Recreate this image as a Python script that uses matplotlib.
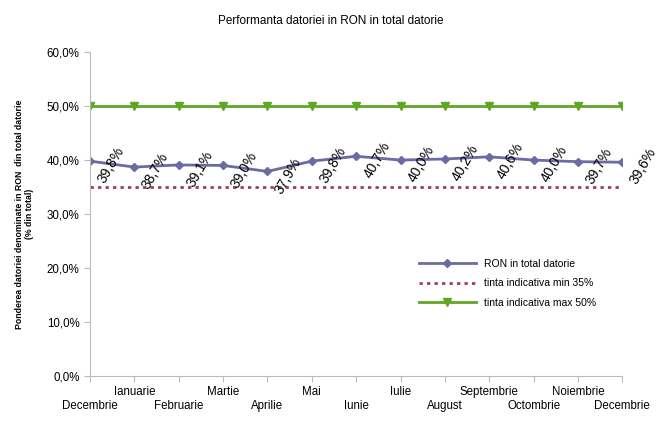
import matplotlib
matplotlib.use('Agg')
import matplotlib.pyplot as plt
from matplotlib.ticker import FuncFormatter

plt.rcParams['font.family'] = ['Liberation Sans', 'DejaVu Sans']

months = ['Decembrie', 'Ianuarie', 'Februarie', 'Martie', 'Aprilie', 'Mai', 'Iunie',
          'Iulie', 'August', 'Septembrie', 'Octombrie', 'Noiembrie', 'Decembrie']
ron = [39.8, 38.7, 39.1, 39.0, 37.9, 39.8, 40.7, 40.0, 40.2, 40.6, 40.0, 39.7, 39.6]
tinta_min = [35.0] * 13
tinta_max = [50.0] * 13

fig = plt.figure(figsize=(6.62, 4.34), dpi=100)
ax = fig.add_axes([0.136, 0.1336, 0.804, 0.7464])
x = list(range(len(months)))

ax.plot(x, ron, color='#6B6BA3', lw=2, marker='D', ms=4, label='RON in total datorie')
ax.plot(x, tinta_min, color='#9E3A6E', lw=2, ls=(0, (1.2, 1.5)), label='tinta indicativa min 35%')
ax.plot(x, tinta_max, color='#5FA625', lw=2, marker='v', ms=6, label='tinta indicativa max 50%')

for xi, v in zip(x, ron):
    ax.annotate(f'{v:.1f}%'.replace('.', ','), (xi, v), xytext=(15, -3),
                textcoords='offset points', rotation=60, ha='center', va='center',
                fontsize=10)

ax.set_xlim(0, 12)
ax.set_ylim(0, 60)
ax.set_yticks(range(0, 61, 10))
ax.yaxis.set_major_formatter(FuncFormatter(lambda v, p: f'{v:.1f}%'.replace('.', ',')))
ax.set_xticks(x)
ax.set_xticklabels(months)
for s in ['top', 'right']:
    ax.spines[s].set_visible(False)
for s in ['left', 'bottom']:
    ax.spines[s].set_color('#BBBBBB')
ax.tick_params(axis='both', colors='#BBBBBB', labelcolor='black', labelsize=8.3, length=4)
# alternate rows: even months on the lower line
for i, t in enumerate(ax.xaxis.get_major_ticks()):
    t.set_pad(3 if i % 2 else 13.5)

ax.set_ylabel('Ponderea datoriei denominate in RON  din total datorie\n(% din total)',
              fontsize=6.3, fontweight='bold', labelpad=9)
fig.suptitle('Performanta datoriei in RON in total datorie', fontsize=8.5, y=0.965)

ax.legend(loc='upper left', bbox_to_anchor=(0.6, 0.39), frameon=False, fontsize=7.5,
          handlelength=5.5, labelspacing=0.9)

fig.savefig('out.png', dpi=100)
